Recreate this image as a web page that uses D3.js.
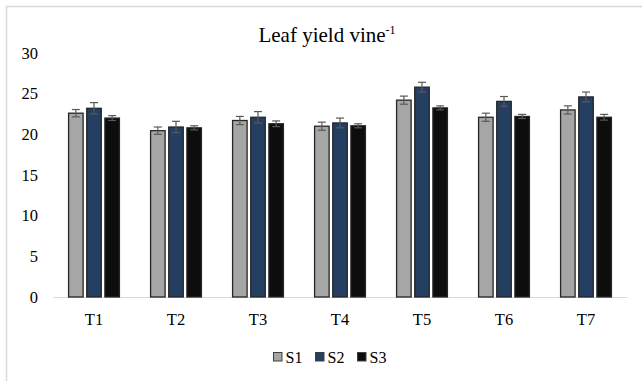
<!DOCTYPE html>
<html>
<head>
<meta charset="utf-8">
<script src="https://cdn.jsdelivr.net/npm/d3@7/dist/d3.min.js"></script>
<style>
  html, body { margin: 0; padding: 0; background: #fff; }
  svg { display: block; }
  svg text { font-family: "Liberation Serif", "Times New Roman", serif !important; fill: #000; }
</style>
</head>
<body>
<svg id="chart" width="642" height="381"></svg>
<script>
// Treatments and series
const categories = ["T1", "T2", "T3", "T4", "T5", "T6", "T7"];
const seriesNames = ["S1", "S2", "S3"];
const seriesColors = ["#a6a6a6", "#243f61", "#0d0d0d"];

// Mean leaf yield per vine
const s1Values = [22.6, 20.45, 21.7, 21.0, 24.2, 22.1, 23.0];
const s2Values = [23.2, 20.9, 22.1, 21.4, 25.8, 24.05, 24.6];
const s3Values = [22.0, 20.8, 21.3, 21.05, 23.25, 22.2, 22.1];

// Standard errors
const s1Errors = [0.45, 0.45, 0.5, 0.5, 0.5, 0.5, 0.5];
const s2Errors = [0.7, 0.7, 0.7, 0.6, 0.6, 0.6, 0.6];
const s3Errors = [0.3, 0.25, 0.35, 0.25, 0.25, 0.25, 0.35];

const yTicks = [0, 5, 10, 15, 20, 25, 30];

const svg = d3.select("#chart");
const margin = { left: 53, right: 15, top: 53, bottom: 84 };
const width = 642, height = 381;

// chart frame
svg.append("rect")
  .attr("x", 6.5).attr("y", 6.5)
  .attr("width", 700).attr("height", 500)
  .attr("fill", "none")
  .attr("stroke", "#d9d9d9")
  .attr("stroke-width", 1.5);

const x = d3.scaleBand()
  .domain(categories)
  .range([margin.left, width - margin.right])
  .paddingInner(0.38)
  .paddingOuter(0.19);

const xs = d3.scaleBand()
  .domain(seriesNames)
  .range([0, x.bandwidth()])
  .paddingInner(0.2);

const y = d3.scaleLinear()
  .domain([0, 30])
  .range([height - margin.bottom, margin.top]);

// title
const title = svg.append("text")
  .attr("x", 327).attr("y", 42)
  .attr("text-anchor", "middle")
  .attr("font-size", 21);
title.append("tspan").text("Leaf yield vine");
title.append("tspan").attr("font-size", 12).attr("dy", -8).text("-1");

// y axis labels
const yAxis = d3.axisLeft(y).tickValues(yTicks).tickSize(0).tickPadding(15);
const yg = svg.append("g").attr("transform", `translate(${margin.left},0)`).call(yAxis);
yg.select(".domain").remove();
yg.selectAll("text").attr("font-size", 16.5);

// x axis
const xAxis = d3.axisBottom(x).tickSize(0).tickPadding(16);
const xg = svg.append("g").attr("transform", `translate(0,${y(0)})`).call(xAxis);
xg.select(".domain").attr("stroke", "#d9d9d9").attr("stroke-width", 1.2);
xg.selectAll("text").attr("font-size", 16.5);

const valuesBySeries = [s1Values, s2Values, s3Values];
const errorsBySeries = [s1Errors, s2Errors, s3Errors];

const data = [];
categories.forEach((c, i) => {
  seriesNames.forEach((s, j) => {
    data.push({ cat: c, series: s, idx: j, value: valuesBySeries[j][i], err: errorsBySeries[j][i] });
  });
});

const bars = svg.append("g");
bars.selectAll("rect")
  .data(data)
  .enter().append("rect")
  .attr("x", d => x(d.cat) + xs(d.series))
  .attr("y", d => y(d.value))
  .attr("width", xs.bandwidth())
  .attr("height", d => y(0) - y(d.value))
  .attr("fill", d => seriesColors[d.idx])
  .attr("stroke", "#262626")
  .attr("stroke-width", 1.3);

// error bars
const eb = svg.append("g").attr("stroke", "#595959").attr("stroke-width", 1.2);
data.forEach(d => {
  const cx = x(d.cat) + xs(d.series) + xs.bandwidth() / 2;
  const top = y(d.value + d.err), bot = y(d.value - d.err);
  eb.append("line").attr("x1", cx).attr("x2", cx).attr("y1", top).attr("y2", bot);
  eb.append("line").attr("x1", cx - 4).attr("x2", cx + 4).attr("y1", top).attr("y2", top);
  eb.append("line").attr("x1", cx - 4).attr("x2", cx + 4).attr("y1", bot).attr("y2", bot);
});

// legend
const legendX = [273, 315, 357];
const legend = svg.append("g");
seriesNames.forEach((s, j) => {
  legend.append("rect")
    .attr("x", legendX[j] + 0.5).attr("y", 352.5)
    .attr("width", 8.5).attr("height", 8.5)
    .attr("fill", seriesColors[j])
    .attr("stroke", "#404040")
    .attr("stroke-width", 1);
  legend.append("text")
    .attr("x", legendX[j] + 12.5).attr("y", 362.5)
    .attr("font-size", 16)
    .text(s);
});
</script>
</body>
</html>
